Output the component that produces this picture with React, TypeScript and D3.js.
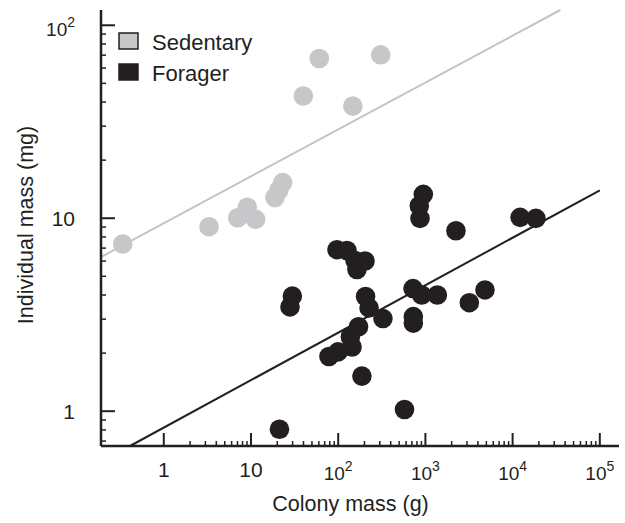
import React from 'react';
import * as d3 from 'd3';

// colony mass (g), individual mass (mg)
const sedentaryX = [0.338, 3.3, 7.04, 9.07, 11.3, 18.8, 20.9, 23.1, 39.8, 60.7, 147, 307];
const sedentaryY = [7.35, 9.04, 10.06, 11.4, 9.87, 12.8, 14.0, 15.3, 43.0, 67.3, 38.1, 70.3];

const foragerX = [
  21.2, 29.8, 28.0, 96.9, 126, 156, 164, 203, 206, 226, 326, 171, 138, 144, 99.5, 78.4,
  187, 576, 721, 907, 1370, 727, 727, 3190, 4820, 2240, 867, 851, 946, 12200, 18500
];
const foragerY = [
  0.806, 3.95, 3.47, 6.87, 6.8, 6.04, 5.42, 6.0, 3.93, 3.43, 3.02, 2.74, 2.43, 2.15, 2.03, 1.92,
  1.52, 1.02, 4.32, 4.0, 4.0, 3.09, 2.86, 3.65, 4.25, 8.61, 9.98, 11.6, 13.3, 10.1, 9.98
];

// power-law fits y = a * x^b
const sedentaryFit = { a: 9.42, b: 0.243 };
const foragerFit = { a: 0.822, b: 0.246 };

const xTicks = [1, 10, 100, 1000, 10000, 100000];
const yTicks = [1, 10, 100];
const legendLabels = ['Sedentary', 'Forager'];

const GRAY = '#c6c7c9';
const INK = '#231f20';

const width = 625;
const height = 523;

const xScale = d3.scaleLog().domain([Math.pow(10, -0.72), Math.pow(10, 5.22)]).range([101, 619]);
const yScale = d3.scaleLog().domain([0.66, 120]).range([446, 10]);

const fitLine = (fit: { a: number; b: number }, xMax: number) => {
  const [x0] = xScale.domain();
  const [yMin, yMax] = yScale.domain();
  // clip to plot box
  const xLow = Math.max(x0, Math.pow(yMin / fit.a, 1 / fit.b));
  const xHigh = Math.min(xMax, Math.pow(yMax / fit.a, 1 / fit.b));
  const line = d3.line<number>()
    .x(d => xScale(d))
    .y(d => yScale(fit.a * Math.pow(d, fit.b)));
  return line([xLow, xHigh]) || '';
};

const minorTicks = (lo: number, hi: number) => {
  const out: number[] = [];
  for (let e = -1; e <= 5; e++) {
    for (let m = 2; m <= 9; m++) {
      const v = m * Math.pow(10, e);
      if (v > lo && v < hi) out.push(v);
    }
  }
  return out;
};

const Label = ({ v, x, y, anchor }: { v: number; x: number; y: number; anchor: string }) => {
  const exp = Math.round(Math.log10(v));
  if (exp < 2) {
    return (
      <text x={x} y={y} textAnchor={anchor} fontSize={21} fill={INK}>{v}</text>
    );
  }
  return (
    <text x={x} y={y + 3} textAnchor={anchor} fontSize={19} fill={INK}>
      10<tspan dy={-9} fontSize={14}>{exp}</tspan>
    </text>
  );
};

const App = () => {
  const sedentary = sedentaryX.map((x, i) => ({ x, y: sedentaryY[i] }));
  const forager = foragerX.map((x, i) => ({ x, y: foragerY[i] }));
  const xMinor = minorTicks(1, 100000);
  const yMinor = minorTicks(yScale.domain()[0], 100);
  const r = 9.8;

  return (
    <div style={{ position: 'absolute', left: 0, top: 0 }}>
      <svg width={width} height={height} style={{ fontFamily: 'Liberation Sans, Arial, sans-serif', background: '#fff' }}>
        {/* fit lines */}
        <path d={fitLine(sedentaryFit, 1e5)} fill="none" stroke="#c3c4c6" strokeWidth={2} />
        <path d={fitLine(foragerFit, 1e5)} fill="none" stroke={INK} strokeWidth={2} />

        {/* points */}
        {sedentary.map((d, i) => (
          <circle key={`s-${i}`} cx={xScale(d.x)} cy={yScale(d.y)} r={r} fill={GRAY} />
        ))}
        {forager.map((d, i) => (
          <circle key={`f-${i}`} cx={xScale(d.x)} cy={yScale(d.y)} r={r} fill={INK} />
        ))}

        {/* axes */}
        <line x1={101} y1={yScale.range()[1]} x2={101} y2={446} stroke={INK} strokeWidth={2.5} />
        <line x1={101} y1={446} x2={xScale.range()[1]} y2={446} stroke={INK} strokeWidth={2.5} />

        {yTicks.map(t => (
          <g key={`yt-${t}`}>
            <line x1={101} x2={115} y1={yScale(t)} y2={yScale(t)} stroke={INK} strokeWidth={2} />
            <Label v={t} x={75} y={yScale(t) + 7.5} anchor="end" />
          </g>
        ))}
        {yMinor.map(t => (
          <line key={`ym-${t}`} x1={101} x2={106} y1={yScale(t)} y2={yScale(t)} stroke={INK} strokeWidth={1.5} />
        ))}

        {xTicks.map(t => (
          <g key={`xt-${t}`}>
            <line x1={xScale(t)} x2={xScale(t)} y1={446} y2={433} stroke={INK} strokeWidth={2} />
            <Label v={t} x={xScale(t)} y={477} anchor="middle" />
          </g>
        ))}
        {xMinor.map(t => (
          <line key={`xm-${t}`} x1={xScale(t)} x2={xScale(t)} y1={446} y2={441} stroke={INK} strokeWidth={1.5} />
        ))}

        {/* axis titles */}
        <text x={(101 + 600) / 2} y={511} textAnchor="middle" fontSize={21.5} fill={INK}>
          Colony mass (g)
        </text>
        <text transform={`translate(33, 225) rotate(-90)`} textAnchor="middle" fontSize={21.5} fill={INK}>
          Individual mass (mg)
        </text>

        {/* legend */}
        {legendLabels.map((label, i) => (
          <g key={label} transform={`translate(119, ${33 + i * 31})`}>
            <rect x={0} y={0} width={19} height={16} fill={i === 0 ? GRAY : INK} stroke={INK} strokeWidth={1.5} />
            <text x={33} y={17} fontSize={22} fill={INK}>{label}</text>
          </g>
        ))}
      </svg>
    </div>
  );
};

export default App;
